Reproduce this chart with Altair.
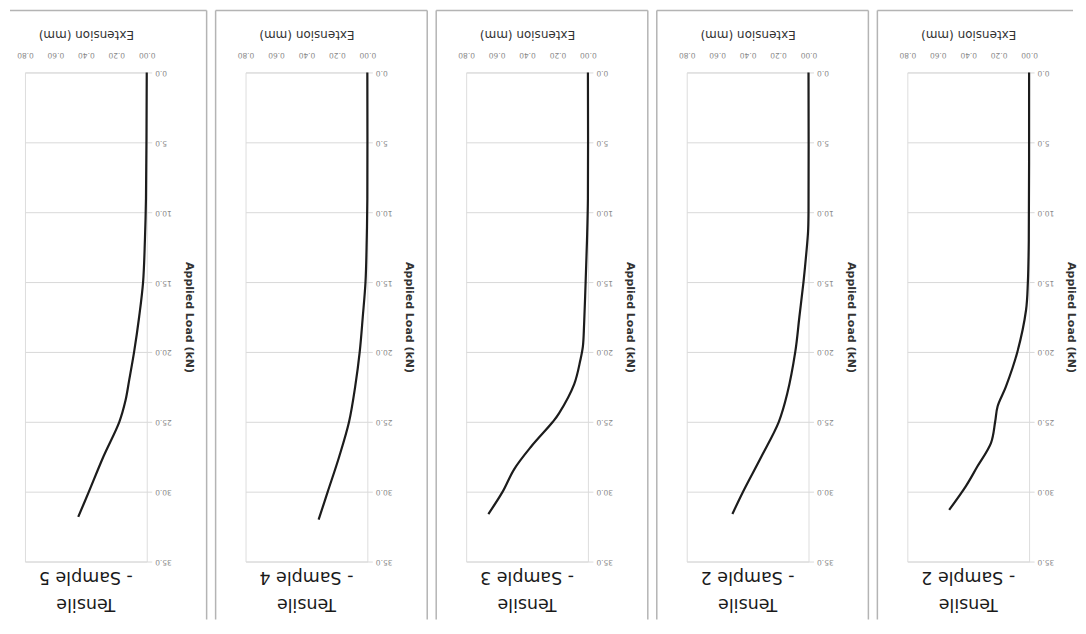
import altair as alt
import pandas as pd

# ---- data read from the (upside-down) scanned charts ----
panel_titles = [
    ["Tensile", "- Sample 5"],
    ["Tensile", "- Sample 4"],
    ["Tensile", "- Sample 3"],
    ["Tensile", "- Sample 2"],
    ["Tensile", "- Sample 2"],
]

load_s5 = [0, 9, 12, 15, 17.5, 20, 22, 23.5, 25, 27.5, 30, 31.8]
ext_s5 = [0, 0.005, 0.012, 0.024, 0.05, 0.083, 0.115, 0.14, 0.18, 0.285, 0.38, 0.45]

load_s4 = [0, 9, 12, 15, 17.5, 20, 22.5, 25, 27.5, 30, 32.0]
ext_s4 = [0, 0.0, 0.004, 0.012, 0.03, 0.05, 0.08, 0.12, 0.185, 0.26, 0.32]

load_s3 = [0, 9, 12, 15, 18, 19.6, 20.6, 22.3, 24.4, 25, 26.8, 28.4, 30, 31.6]
ext_s3 = [0, 0.0, 0.006, 0.015, 0.025, 0.033, 0.05, 0.09, 0.19, 0.23, 0.375, 0.485, 0.56, 0.654]

load_s2a = [0, 10, 11.4, 13, 15, 17.5, 20, 23, 25, 27.5, 30, 31.6]
ext_s2a = [0, 0.0, 0.003, 0.015, 0.033, 0.06, 0.087, 0.14, 0.195, 0.31, 0.43, 0.5]

load_s2b = [0, 12, 15, 17, 20, 22.5, 23.9, 25, 26.5, 28.2, 29.6, 31.3]
ext_s2b = [0, 0.002, 0.008, 0.02, 0.077, 0.153, 0.207, 0.223, 0.25, 0.34, 0.415, 0.525]

ext_ticks = [0.0, 0.2, 0.4, 0.6, 0.8]
load_ticks = [0, 5, 10, 15, 20, 25, 30, 35]

series = [
    (load_s5, ext_s5),
    (load_s4, ext_s4),
    (load_s3, ext_s3),
    (load_s2a, ext_s2a),
    (load_s2b, ext_s2b),
]

FONT = "DejaVu Sans"
PW, PH = 122, 490
FRAME = "#b4b4b4"
ONE = alt.Data(values=[{}])


def frame_rules(i):
    rules = []
    top = -62
    bottom = 548
    left = -15 if i == 0 else -30
    right = 166 if i == 4 else 182
    rules.append(
        alt.Chart(ONE).mark_rule(color=FRAME, strokeWidth=1.5).encode(
            x=alt.value(left), x2=alt.value(right), y=alt.value(top)
        )
    )
    if i != 0:
        rules.append(
            alt.Chart(ONE).mark_rule(color=FRAME, strokeWidth=1.5).encode(
                x=alt.value(-30), y=alt.value(top), y2=alt.value(bottom)
            )
        )
    if i != 4:
        rules.append(
            alt.Chart(ONE).mark_rule(color=FRAME, strokeWidth=1.5).encode(
                x=alt.value(182), y=alt.value(top), y2=alt.value(bottom)
            )
        )
    return rules


def panel(i):
    loads, exts = series[i]
    df = pd.DataFrame({"load": loads, "ext": exts, "order": list(range(len(loads)))})
    line = alt.Chart(df).mark_line(
        color="#1c1c1c", strokeWidth=2.2, interpolate="catmull-rom"
    ).encode(
        x=alt.X(
            "ext:Q",
            scale=alt.Scale(domain=[0, 0.8], reverse=True, nice=False, zero=False),
            axis=alt.Axis(
                orient="top", values=ext_ticks, format=".2f",
                labelAngle=180, labelFontSize=7.5, labelColor="#888888",
                labelPadding=14, labelFlush=False, labelOverlap=False,
                ticks=False, domain=False, grid=False,
                title="Extension (mm)", titleAngle=180, titleBaseline="top",
                titleFontSize=12, titleFontWeight="normal", titleColor="#333333",
                titlePadding=12, titleFont=FONT, labelFont=FONT,
            ),
        ),
        y=alt.Y(
            "load:Q",
            scale=alt.Scale(domain=[0, 35], reverse=True, nice=False),
            axis=alt.Axis(
                orient="right", values=load_ticks, format=".1f",
                labelAngle=180, labelFontSize=7.5, labelColor="#888888",
                labelPadding=3, labelFlush=False, labelOverlap=False,
                tickSize=5, tickColor="#d9d9d9", domain=False,
                grid=True, gridColor="#d9d9d9",
                title="Applied Load (kN)", titleAngle=90,
                titleFontSize=11, titleFontWeight="bold", titleColor="#333333",
                titlePadding=12, titleFont=FONT, labelFont=FONT,
            ),
        ),
        order="order:Q",
    )
    title = alt.Chart(ONE).mark_text(
        text=panel_titles[i], angle=180, fontSize=17.5, lineHeight=28,
        align="center", baseline="bottom", color="#1a1a1a", font=FONT,
    ).encode(x=alt.value(PW / 2), y=alt.value(PH + 34))
    layers = frame_rules(i) + [line, title]
    return alt.layer(*layers).properties(width=PW, height=PH)


chart = alt.hconcat(*[panel(i) for i in range(5)], spacing=99, bounds="flush").properties(
    padding=0, background="white"
).configure_view(stroke="#8c8c8c", strokeWidth=1).configure(font=FONT)

chart.save("out.html", embed_options={"renderer": "svg", "actions": False})
